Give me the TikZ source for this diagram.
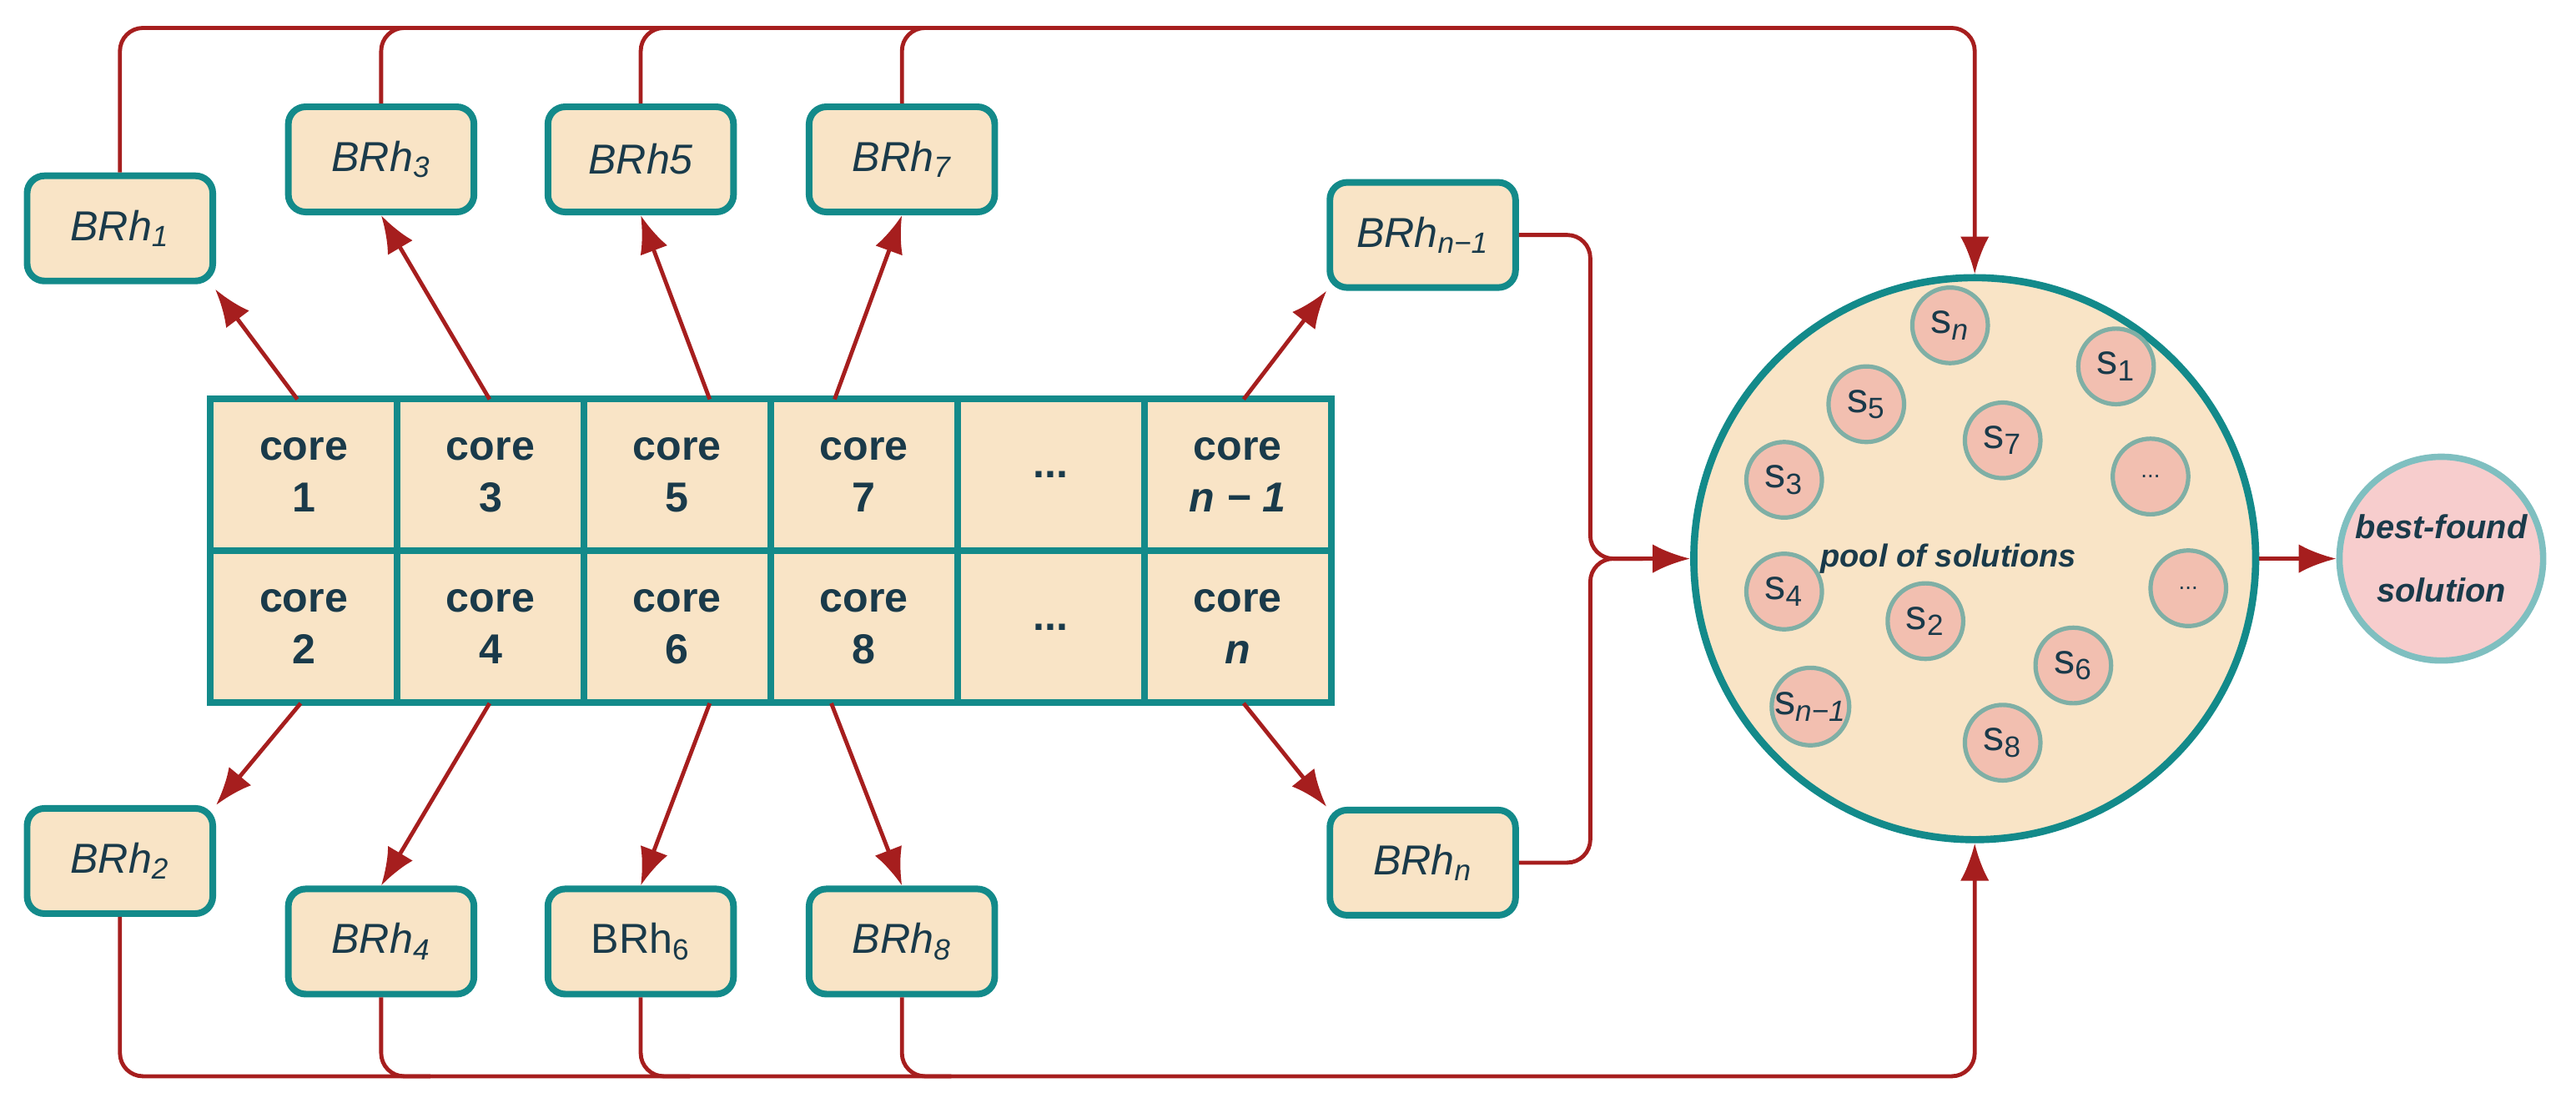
\documentclass[tikz,border=0pt]{standalone}
\usepackage{fontspec}
\setmainfont{Liberation Sans}
\usetikzlibrary{arrows.meta}
\definecolor{teal}{HTML}{138A8A}
\definecolor{cream}{HTML}{F9E4C6}
\definecolor{dred}{HTML}{A61E1E}
\definecolor{ink}{HTML}{1A3A4A}
\definecolor{sfill}{HTML}{F2BFB0}
\definecolor{sdraw}{HTML}{7FAFA5}
\definecolor{bfill}{HTML}{F7CDCD}
\definecolor{bdraw}{HTML}{7FBFC0}
\newcommand{\sbi}[1]{\textsubscript{\textit{#1}}}
\newcommand{\sbu}[1]{\textsubscript{\textup{#1}}}
\begin{document}
\begin{tikzpicture}[x=0.02cm,y=-0.02cm,
 brh/.style={draw=teal,fill=cream,line width=2.3pt,rounded corners=6pt,minimum width=113*0.02cm,minimum height=64*0.02cm,text=ink,font=\fontsize{14.5}{16}\selectfont\itshape},
 core/.style={draw=teal,fill=cream,line width=2.3pt,minimum width=113.7*0.02cm,minimum height=92.5*0.02cm,text=ink,font=\fontsize{14.5}{18}\selectfont\bfseries,align=center},
 sol/.style={circle,draw=sdraw,fill=sfill,line width=1.5pt,minimum size=46*0.02cm,inner sep=0pt,text=ink,font=\fontsize{14.5}{16}\selectfont},
 arr/.style={draw=dred,line width=1.4pt,-{Latex[length=13pt,width=10pt]}},
 bus/.style={draw=dred,line width=1.4pt,rounded corners=8pt},
 busa/.style={bus,-{Latex[length=13pt,width=10pt]}}]
\useasboundingbox (0,0) rectangle (1568,668);
% cores
\foreach \i/\t [count=\k from 0] in {1/{core\\1},3/{core\\3},5/{core\\5},7/{core\\7},d/{...},m/{core\\\textit{n − 1}}}{
 \node[core] (c\i) at (128+56.85+113.7*\k,289) {\t};}
\foreach \i/\t [count=\k from 0] in {2/{core\\2},4/{core\\4},6/{core\\6},8/{core\\8},e/{...},n/{core\\\textit{n}}}{
 \node[core] (c\i) at (128+56.85+113.7*\k,381.5) {\t};}
% BRh
\node[brh] (b1) at (73,139) {BRh\sbi{1}};
\node[brh] (b3) at (232,97) {BRh\sbi{3}};
\node[brh] (b5) at (390,97) {BRh5};
\node[brh] (b7) at (549,97) {BRh\sbi{7}};
\node[brh] (bm) at (866,143) {BRh\sbi{n−1}};
\node[brh] (b2) at (73,524) {BRh\sbi{2}};
\node[brh] (b4) at (232,573) {BRh\sbi{4}};
\node[brh,font=\fontsize{14.5}{16}\selectfont] (b6) at (390,573) {BRh\sbu{6}};
\node[brh] (b8) at (549,573) {BRh\sbi{8}};
\node[brh] (bn) at (866,525) {BRh\sbi{n}};
% pool
\node[circle,draw=teal,fill=cream,line width=2.5pt,minimum size=342*0.02cm] (pool) at (1202,340) {};
\node[text=ink,font=\fontsize{11}{13}\selectfont\bfseries\itshape] (pt) at (1186,340) {pool of solutions};
\node[circle,draw=bdraw,fill=bfill,line width=2.2pt,minimum size=124*0.02cm,inner sep=0pt,align=center,text=ink,font=\fontsize{11.5}{22}\selectfont\bfseries\itshape] (best) at (1486,340) {best-found\\solution};
\foreach \n/\p/\t in {sn/{1187,198}/{s\sbi{n}},s1/{1288,223}/{s\sbu{1}},s5/{1136,246}/{s\sbu{5}},s7/{1219,268}/{s\sbu{7}},s3/{1086,292}/{s\sbu{3}},sd/{1309,290}/{\footnotesize...},s4/{1086,360}/{s\sbu{4}},se/{1332,358}/{\footnotesize...},s2/{1172,378}/{s\sbu{2}},s6/{1262,405}/{s\sbu{6}},sm/{1102,430}/{s\sbi{n−1}},s8/{1219,452}/{s\sbu{8}}}
 \node[sol] (\n) at (\p) {\t};
% arrows core -> BRh
\coordinate (t1) at (181,243); \coordinate (t3) at (298,243); \coordinate (t5) at (432,243);
\coordinate (t7) at (508,243); \coordinate (tm) at (757,243);
\coordinate (u2) at (183,428); \coordinate (u4) at (298,428); \coordinate (u6) at (432,428);
\coordinate (u8) at (506,428); \coordinate (un) at (757,428);
\draw[arr] (t1) -- (131,176);
\draw[arr] (t3) -- (b3.south);
\draw[arr] (t5) -- (b5.south);
\draw[arr] (t7) -- (b7.south);
\draw[arr] (tm) -- (bm.south west);
\draw[arr] (u2) -- (b2.north east);
\draw[arr] (u4) -- (b4.north);
\draw[arr] (u6) -- (b6.north);
\draw[arr] (u8) -- (b8.north);
\draw[arr] (un) -- (bn.north west);
% buses
\draw[busa] (b1.north) |- (1202,17) -- (pool.north);
\foreach \b in {b3,b5,b7} \draw[bus] (\b.north) |- ([xshift=30*0.02cm]\b.north |- 0,17);
\draw[busa] (b2.south) |- (1202,655) -- (pool.south);
\foreach \b in {b4,b6,b8} \draw[bus] (\b.south) |- ([xshift=30*0.02cm]\b.south |- 0,655);
\draw[bus] (bm.east) -| (968,340) -- (1000,340);
\draw[bus] (bn.east) -| (968,340) -- (1000,340);
\draw[arr] (990,340) -- (pool.west);
\draw[arr] (pool.east) -- (best.west);
\end{tikzpicture}
\end{document}
